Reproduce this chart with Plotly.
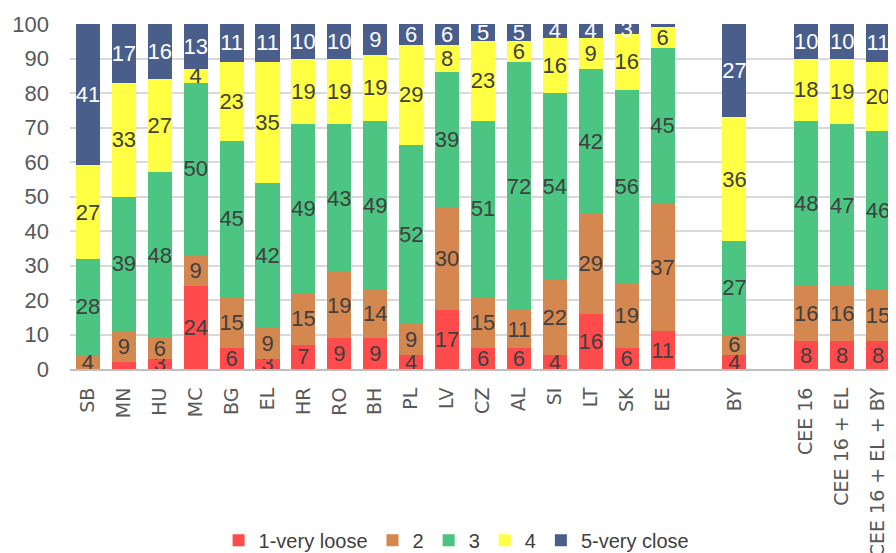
import plotly.graph_objects as go

categories = ["SB", "MN", "HU", "MC", "BG", "EL", "HR", "RO", "BH", "PL", "LV", "CZ",
              "AL", "SI", "LT", "SK", "EE", " ", "BY", "  ",
              "CEE 16", "CEE 16 + EL", "CEE 16 + EL + BY"]

very_loose = [0, 2, 3, 24, 6, 3, 7, 9, 9, 4, 17, 6, 6, 4, 16, 6, 11, None, 4, None, 8, 8, 8]
level_2 = [4, 9, 6, 9, 15, 9, 15, 19, 14, 9, 30, 15, 11, 22, 29, 19, 37, None, 6, None, 16, 16, 15]
level_3 = [28, 39, 48, 50, 45, 42, 49, 43, 49, 52, 39, 51, 72, 54, 42, 56, 45, None, 27, None, 48, 47, 46]
level_4 = [27, 33, 27, 4, 23, 35, 19, 19, 19, 29, 8, 23, 6, 16, 9, 16, 6, None, 36, None, 18, 19, 20]
very_close = [41, 17, 16, 13, 11, 11, 10, 10, 9, 6, 6, 5, 5, 4, 4, 3, 1, None, 27, None, 10, 10, 11]

series = [
    ("1-very loose", very_loose, "#FF4B4B", "#404040"),
    ("2", level_2, "#D4874F", "#404040"),
    ("3", level_3, "#4BC581", "#404040"),
    ("4", level_4, "#FFFF44", "#404040"),
    ("5-very close", very_close, "#4A5E8B", "#FFFFFF"),
]

fig = go.Figure()
for name, vals, color, tcol in series:
    txt = ["" if (v is None or v < 3) else str(v) for v in vals]
    fig.add_trace(go.Bar(
        name=name, x=categories, y=vals, marker=dict(color=color, line=dict(width=0)),
        text=txt, texttemplate="%{text}", textposition="inside", insidetextanchor="middle",
        textangle=0, insidetextfont=dict(color=tcol, size=22, family="Liberation Sans"),
        cliponaxis=False, hoverinfo="skip",
    ))

fig.update_layout(
    barmode="stack", bargap=0.33,
    width=888, height=545,
    margin=dict(l=62, r=0, t=16, b=184, autoexpand=False),
    plot_bgcolor="white", paper_bgcolor="white",
    uniformtext=dict(minsize=22, mode="show"),
    showlegend=True,
    legend=dict(orientation="h", x=0.468, xanchor="center", xref="paper",
                y=-0.44, yanchor="top", yref="paper",
                font=dict(family="Liberation Sans", size=20, color="#404040"),
                traceorder="normal", itemwidth=30),
)
fig.update_xaxes(
    type="category", tickangle=-90, showgrid=False, automargin=False,
    tickfont=dict(family="DejaVu Sans", size=19, color="#595959"),
    showline=True, linecolor="#BFBFBF", linewidth=2, ticks="", ticklabelstandoff=9,
)
fig.update_yaxes(
    range=[0, 100], dtick=10, showgrid=True, gridcolor="#D9D9D9", gridwidth=2,
    tickfont=dict(family="Liberation Sans", size=22, color="#595959"),
    zeroline=False, ticks="", ticklabelstandoff=20, automargin=False,
)

fig.write_html("out.html")
